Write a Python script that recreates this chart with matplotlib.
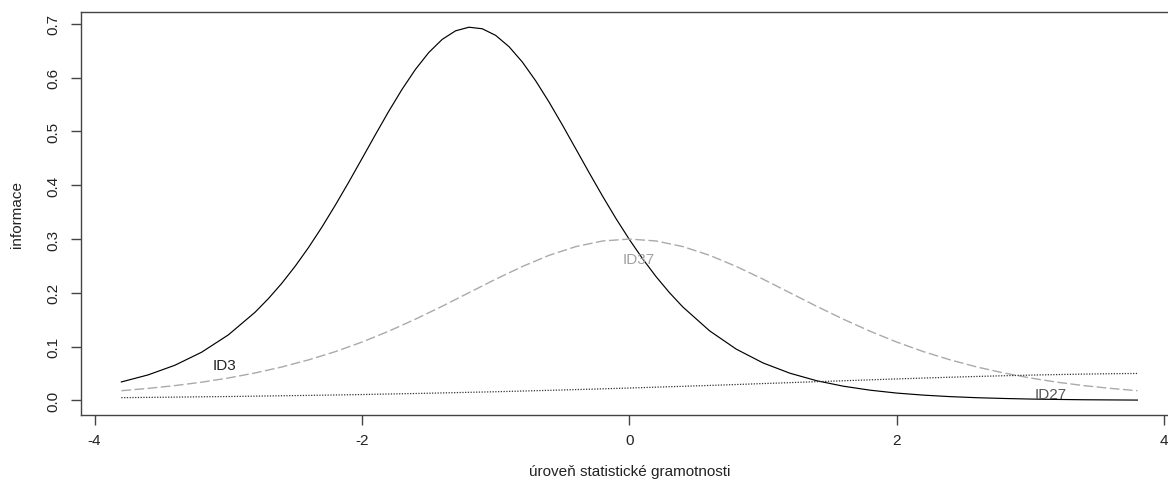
import numpy as np
import matplotlib
matplotlib.use("Agg")
import matplotlib.pyplot as plt

plt.rcParams["font.family"] = ["Liberation Sans", "DejaVu Sans"]
plt.rcParams["axes.unicode_minus"] = False

# ability grid (theta) and item information values
theta = np.round(np.arange(-3.8, 3.81, 0.2), 2)

# ID3 is steep, so it gets a finer grid around its peak
theta_id3 = [-3.8, -3.6, -3.4, -3.2, -3.0, -2.8, -2.7, -2.6, -2.5, -2.4,
             -2.3, -2.2, -2.1, -2.0, -1.9, -1.8, -1.7, -1.6, -1.5, -1.4,
             -1.3, -1.2, -1.1, -1.0, -0.9, -0.8, -0.7, -0.6, -0.5, -0.4,
             -0.3, -0.2, -0.1, 0.0, 0.1, 0.2, 0.3, 0.4, 0.6, 0.8,
             1.0, 1.2, 1.4, 1.6, 1.8, 2.0, 2.2, 2.4, 2.6, 2.8,
             3.0, 3.2, 3.4, 3.6, 3.8]
info_id3 = [0.0344, 0.0475, 0.0654, 0.0896, 0.1218, 0.1639, 0.1893, 0.2177, 0.2494, 0.2842,
            0.3221, 0.3628, 0.4054, 0.4495, 0.4939, 0.5374, 0.5784, 0.6154, 0.6468, 0.6711,
            0.6870, 0.6937, 0.6908, 0.6785, 0.6575, 0.6288, 0.5938, 0.5542, 0.5115, 0.4673,
            0.4229, 0.3795, 0.3380, 0.2991, 0.2630, 0.2300, 0.2003, 0.1737, 0.1294, 0.0953,
            0.0697, 0.0507, 0.0367, 0.0265, 0.0191, 0.0137, 0.0099, 0.0071, 0.0051, 0.0037,
            0.0026, 0.0019, 0.0013, 0.0010, 0.0007]

info_id37 = [0.0181, 0.0224, 0.0276, 0.0339, 0.0417, 0.0511, 0.0622, 0.0754,
             0.0907, 0.1085, 0.1287, 0.1511, 0.1751, 0.2003, 0.2254, 0.2490,
             0.2698, 0.2860, 0.2964, 0.3000, 0.2964, 0.2860, 0.2698, 0.2490,
             0.2254, 0.2003, 0.1751, 0.1511, 0.1287, 0.1085, 0.0907, 0.0754,
             0.0622, 0.0511, 0.0417, 0.0339, 0.0276, 0.0224, 0.0181]

info_id27 = [0.0052, 0.0057, 0.0062, 0.0068, 0.0073, 0.0080, 0.0087, 0.0094,
             0.0102, 0.0110, 0.0120, 0.0129, 0.0140, 0.0151, 0.0162, 0.0175,
             0.0188, 0.0202, 0.0216, 0.0231, 0.0247, 0.0263, 0.0279, 0.0296,
             0.0314, 0.0331, 0.0349, 0.0366, 0.0383, 0.0400, 0.0416, 0.0432,
             0.0446, 0.0459, 0.0471, 0.0481, 0.0490, 0.0497, 0.0502]

# item labels: name, theta, information, colour
labels = ["ID3", "ID37", "ID27"]
label_theta = [-3.03, 0.07, 3.15]
label_info = [0.066, 0.263, 0.0125]
label_colors = ["#222222", "#a0a0a0", "#555555"]

fig = plt.figure(figsize=(11.68, 4.89), dpi=100)
ax = fig.add_axes([0.0691, 0.1493, 0.9395, 0.8235])

ax.plot(theta_id3, info_id3, color="black", lw=0.85)
ax.plot(theta, info_id37, color="#aaaaaa", lw=1.0, dashes=(7, 2.5))
ax.plot(theta, info_id27, color="#333333", lw=0.9, linestyle=(0, (1, 1.2)))

for name, tx, ty, c in zip(labels, label_theta, label_info, label_colors):
    ax.text(tx, ty, name, color=c, fontsize=11, ha="center", va="center")

# R-like 4% padding around the data range
all_y = info_id3 + info_id37 + info_id27
ylo, yhi = min(all_y), max(all_y)
pad = 0.04 * (yhi - ylo)
ax.set_ylim(ylo - pad, yhi + pad)
ax.set_xlim(-3.8 - 0.04 * 7.6, 3.8 + 0.04 * 7.6)

ax.set_xticks([-4, -2, 0, 2, 4])
ax.set_yticks(np.arange(0, 0.71, 0.1))
ax.set_yticklabels([f"{v:.1f}" for v in np.arange(0, 0.71, 0.1)])
ax.tick_params(axis="both", direction="out", length=7, width=1,
               color="#444444", labelsize=11, labelcolor="#222222")
ax.tick_params(axis="x", pad=6)
ax.tick_params(axis="y", pad=7.5, labelrotation=90)
for lab in ax.get_yticklabels():
    lab.set_va("center")

for sp in ax.spines.values():
    sp.set_color("#444444")
    sp.set_linewidth(1.0)

ax.set_xlabel("úroveň statistické gramotnosti", fontsize=11, color="#222222")
ax.xaxis.set_label_coords(0.5, -0.139)
ax.xaxis.label.set_va("center")
ax.set_ylabel("informace", fontsize=11, color="#222222")
ax.yaxis.set_label_coords(-0.058, 0.5)
ax.yaxis.label.set_va("center")

fig.savefig("out.png", dpi=100)
